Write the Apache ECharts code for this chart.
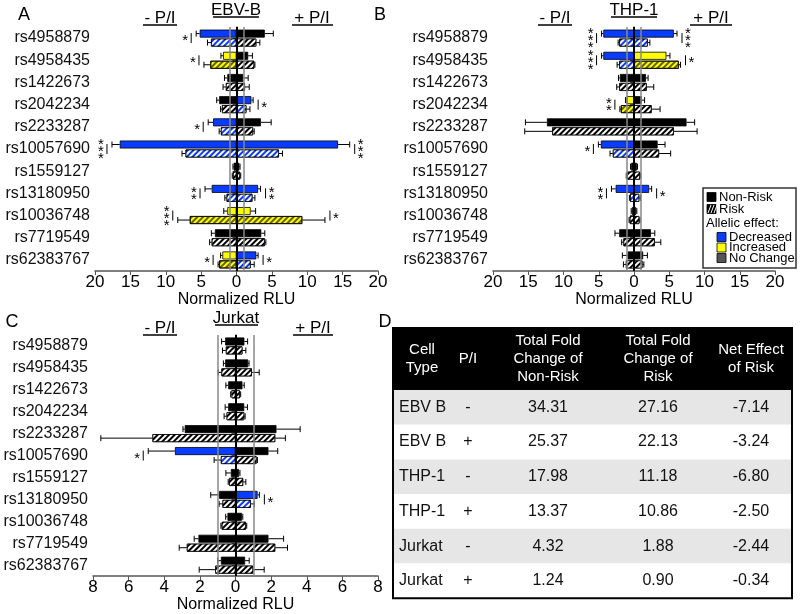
<!DOCTYPE html>
<html>
<head>
<meta charset="utf-8">
<script src="https://cdn.jsdelivr.net/npm/echarts@6/dist/echarts.min.js"></script>
<style>
html, body { margin: 0; background: #fff; }
#chart { width: 800px; height: 614px; }
</style>
</head>
<body>
<div id="chart"></div>
<script>
var font = 'Liberation Sans, Arial, sans-serif';

var snps = ['rs4958879', 'rs4958435', 'rs1422673', 'rs2042234', 'rs2233287', 'rs10057690',
    'rs1559127', 'rs13180950', 'rs10036748', 'rs7719549', 'rs62383767'];

// D = decreased, I = increased, N = no change
var effectColor = { D: '#0a3cff', I: '#ffff00', N: '#000000' };

// A - EBV-B (magnitudes; -P/I drawn to the left)
var ebvNonRiskMinus = [5.2, 1.9, 1.3, 2.45, 3.3, 16.5, 0.4, 3.5, 1.3, 3.05, 2.0];
var ebvNonRiskMinusErr = [0.5, 0.3, 0.4, 0.35, 0.7, 1.1, 0.1, 0.95, 0.5, 0.5, 0.25];
var ebvNonRiskPlus = [4.0, 1.65, 0.95, 2.1, 3.45, 14.35, 0.4, 3.05, 2.0, 3.5, 2.8];
var ebvNonRiskPlusErr = [1.2, 0.6, 0.7, 0.25, 1.45, 1.65, 0.1, 0.35, 0.7, 0.5, 0.25];
var ebvRiskMinus = [3.6, 3.7, 1.5, 2.05, 2.2, 7.2, 0.5, 1.4, 6.6, 3.5, 2.45];
var ebvRiskMinusErr = [0.5, 0.9, 0.4, 0.2, 0.25, 0.5, 0.1, 0.25, 1.7, 0.3, 0.15];
var ebvRiskPlus = [2.8, 2.5, 1.2, 1.4, 2.35, 6.0, 0.5, 2.25, 9.3, 4.0, 2.0];
var ebvRiskPlusErr = [0.5, 0.1, 0.6, 0.5, 0.15, 0.5, 0.1, 0.35, 3.2, 0.15, 0.5];
var ebvEffectMinus = ['D', 'I', 'N', 'N', 'D', 'D', 'N', 'D', 'I', 'N', 'I'];
var ebvEffectPlus = ['N', 'N', 'N', 'D', 'N', 'D', 'N', 'D', 'I', 'N', 'D'];
var ebvStars = [[0, 'L', '*'], [1, 'L', '*'], [3, 'R', '*'], [4, 'L', '*'], [5, 'L', '***'], [5, 'R', '***'],
    [7, 'L', '**'], [7, 'R', '**'], [8, 'L', '***'], [8, 'R', '*'], [10, 'L', '*'], [10, 'R', '*']];

// B - THP-1
var thpNonRiskMinus = [4.35, 4.35, 2.0, 1.05, 12.35, 4.7, 0.4, 2.6, 0.3, 2.1, 0.9];
var thpNonRiskMinusErr = [0.25, 0.25, 0.2, 0.15, 3.05, 0.35, 0.1, 0.6, 0.1, 0.6, 0.75];
var thpNonRiskPlus = [5.65, 4.6, 1.7, 1.1, 7.45, 3.35, 0.4, 2.15, 0.3, 2.4, 1.3];
var thpNonRiskPlusErr = [0.45, 0.5, 0.3, 0.4, 1.15, 1.05, 0.1, 0.35, 0.1, 0.55, 0.6];
var thpRiskMinus = [2.1, 2.1, 2.1, 1.85, 11.6, 3.0, 1.0, 0.55, 0.6, 1.5, 1.15];
var thpRiskMinusErr = [0.15, 0.3, 0.35, 0.15, 3.9, 0.4, 0.1, 0.1, 0.1, 0.25, 0.35];
var thpRiskPlus = [1.95, 6.35, 1.8, 2.5, 5.65, 3.55, 0.85, 0.75, 0.75, 2.95, 1.2];
var thpRiskPlusErr = [0.3, 0.25, 1.0, 1.2, 3.3, 1.65, 0.1, 0.2, 0.1, 0.85, 0.2];
var thpEffectMinus = ['D', 'D', 'N', 'I', 'N', 'D', 'N', 'D', 'N', 'N', 'N'];
var thpEffectPlus = ['D', 'I', 'N', 'N', 'N', 'N', 'N', 'D', 'N', 'N', 'N'];
var thpStars = [[0, 'L', '***'], [0, 'R', '***'], [1, 'L', '***'], [1, 'R', '*'], [3, 'L', '**'],
    [5, 'L', '*'], [7, 'L', '**'], [7, 'R', '*']];

// C - Jurkat
var jurNonRiskMinus = [0.58, 0.58, 0.41, 0.41, 2.85, 3.4, 0.26, 0.92, 0.45, 2.08, 0.82];
var jurNonRiskMinusErr = [0.2, 0.1, 0.13, 0.17, 0.1, 1.5, 0.28, 0.47, 0.1, 0.24, 0.18];
var jurNonRiskPlus = [0.5, 0.71, 0.39, 0.49, 2.3, 1.85, 0.2, 1.24, 0.36, 1.85, 0.54];
var jurNonRiskPlusErr = [0.18, 0.05, 0.1, 0.18, 1.33, 0.52, 0.05, 0.1, 0.05, 0.85, 0.23];
var jurRiskMinus = [0.54, 0.79, 0.22, 0.5, 4.66, 0.82, 0.36, 0.73, 0.77, 2.73, 1.14];
var jurRiskMinusErr = [0.19, 0.18, 0.05, 0.14, 2.9, 0.38, 0.05, 0.19, 0.05, 0.43, 0.9];
var jurRiskPlus = [0.39, 0.92, 0.24, 0.49, 2.23, 1.18, 0.43, 0.86, 0.58, 2.23, 0.99];
var jurRiskPlusErr = [0.19, 0.41, 0.05, 0.05, 0.57, 0.05, 0.15, 0.19, 0.05, 0.69, 0.62];
var jurEffectMinus = ['N', 'N', 'N', 'N', 'N', 'D', 'N', 'N', 'N', 'N', 'N'];
var jurEffectPlus = ['N', 'N', 'N', 'N', 'N', 'N', 'N', 'D', 'N', 'N', 'N'];
var jurStars = [[5, 'L', '*'], [7, 'R', '*']];

// D - table
var tableHeaders = ['Cell\nType', 'P/I', 'Total Fold\nChange of\nNon-Risk', 'Total Fold\nChange of\nRisk', 'Net Effect\nof Risk'];
var tableCellType = ['EBV B', 'EBV B', 'THP-1', 'THP-1', 'Jurkat', 'Jurkat'];
var tablePI = ['-', '+', '-', '+', '-', '+'];
var tableFoldNonRisk = [34.31, 25.37, 17.98, 13.37, 4.32, 1.24];
var tableFoldRisk = [27.16, 22.13, 11.18, 10.86, 1.88, 0.90];
var tableNetEffect = [-7.14, -3.24, -6.80, -2.50, -2.44, -0.34];

function hatch(eff) {
    return {
        symbol: 'rect', symbolSize: 1,
        color: eff === 'I' ? 'rgba(60,60,0,0.8)' : '#ffffff',
        dashArrayX: [1, 0], dashArrayY: [2, 2], rotation: -Math.PI / 4
    };
}

function barData(vals, effs, sign, risk) {
    return vals.map(function (v, i) {
        var st = { color: effectColor[effs[i]], borderColor: '#000', borderWidth: 0.8 };
        if (risk) st.decal = hatch(effs[i]);
        return { value: sign * v, itemStyle: st };
    });
}

function errData(vals, errs, sign, row) {
    return vals.map(function (v, i) {
        return [i, sign * v, sign * (v + errs[i]), row];
    });
}

function renderErr(params, api) {
    var cat = api.value(0);
    var p0 = api.coord([api.value(1), cat]);
    var p1 = api.coord([api.value(2), cat]);
    var y = p0[1] + (api.value(3) === 0 ? -4.5 : 4.5);
    return {
        type: 'group',
        children: [
            { type: 'line', shape: { x1: p0[0], y1: y, x2: p1[0], y2: y }, style: { stroke: '#000', lineWidth: 1 } },
            { type: 'line', shape: { x1: p1[0], y1: y - 3, x2: p1[0], y2: y + 3 }, style: { stroke: '#000', lineWidth: 1 } }
        ]
    };
}

function renderStars(params, api) {
    var p = api.coord([api.value(1), api.value(0)]);
    var s = api.value(2), n = api.value(3);
    var bx = p[0] + s * 5;
    var kids = [{ type: 'line', shape: { x1: bx, y1: p[1] - 5, x2: bx, y2: p[1] + 5 }, style: { stroke: '#000', lineWidth: 1 } }];
    for (var k = 0; k < n; k++) {
        kids.push({
            type: 'text',
            style: {
                text: '*', x: bx + s * 6, y: p[1] + (k - (n - 1) / 2) * 7 + 3,
                align: 'center', verticalAlign: 'middle', fontSize: 15, fontFamily: font, fill: '#000'
            }
        });
    }
    return { type: 'group', children: kids };
}

var panels = [
    { nrM: ebvNonRiskMinus, nrMe: ebvNonRiskMinusErr, nrP: ebvNonRiskPlus, nrPe: ebvNonRiskPlusErr,
      rM: ebvRiskMinus, rMe: ebvRiskMinusErr, rP: ebvRiskPlus, rPe: ebvRiskPlusErr,
      effM: ebvEffectMinus, effP: ebvEffectPlus, stars: ebvStars },
    { nrM: thpNonRiskMinus, nrMe: thpNonRiskMinusErr, nrP: thpNonRiskPlus, nrPe: thpNonRiskPlusErr,
      rM: thpRiskMinus, rMe: thpRiskMinusErr, rP: thpRiskPlus, rPe: thpRiskPlusErr,
      effM: thpEffectMinus, effP: thpEffectPlus, stars: thpStars },
    { nrM: jurNonRiskMinus, nrMe: jurNonRiskMinusErr, nrP: jurNonRiskPlus, nrPe: jurNonRiskPlusErr,
      rM: jurRiskMinus, rMe: jurRiskMinusErr, rP: jurRiskPlus, rPe: jurRiskPlusErr,
      effM: jurEffectMinus, effP: jurEffectPlus, stars: jurStars }
];

function starData(p) {
    return p.stars.map(function (m) {
        var i = m[0], left = m[1] === 'L';
        var ext = left ? -Math.max(p.nrM[i] + p.nrMe[i], p.rM[i] + p.rMe[i])
                       : Math.max(p.nrP[i] + p.nrPe[i], p.rP[i] + p.rPe[i]);
        return [i, ext, left ? -1 : 1, m[2].length];
    });
}

var series = [];
panels.forEach(function (p, g) {
    var common = { type: 'bar', xAxisIndex: g, yAxisIndex: g, barWidth: 8, barGap: '12%', silent: true };
    series.push(Object.assign({}, common, {
        stack: 'nr' + g, data: barData(p.nrM, p.effM, -1, false),
        markLine: {
            silent: true, symbol: 'none', label: { show: false }, animation: false,
            data: [
                { xAxis: -1, lineStyle: { color: '#888', width: 1.5, type: 'solid' } },
                { xAxis: 1, lineStyle: { color: '#888', width: 1.5, type: 'solid' } },
                { xAxis: 0, lineStyle: { color: '#000', width: 2, type: 'solid' } }
            ]
        }
    }));
    series.push(Object.assign({}, common, { stack: 'nr' + g, data: barData(p.nrP, p.effP, 1, false) }));
    series.push(Object.assign({}, common, { stack: 'r' + g, data: barData(p.rM, p.effM, -1, true) }));
    series.push(Object.assign({}, common, { stack: 'r' + g, data: barData(p.rP, p.effP, 1, true) }));
    series.push({
        type: 'custom', xAxisIndex: g, yAxisIndex: g, renderItem: renderErr, silent: true, z: 3,
        encode: { x: [1, 2], y: 0 },
        data: errData(p.nrM, p.nrMe, -1, 0).concat(errData(p.nrP, p.nrPe, 1, 0),
            errData(p.rM, p.rMe, -1, 1), errData(p.rP, p.rPe, 1, 1))
    });
    series.push({
        type: 'custom', xAxisIndex: g, yAxisIndex: g, renderItem: renderStars, silent: true, z: 4,
        encode: { x: 1, y: 0 }, data: starData(p)
    });
});

function xAxis(g, lim, step) {
    return {
        type: 'value', gridIndex: g, min: -lim, max: lim, interval: step,
        name: 'Normalized RLU', nameLocation: 'middle', nameGap: 19,
        nameTextStyle: { fontFamily: font, fontSize: 16, color: '#000', verticalAlign: 'top' },
        axisLine: { show: true, lineStyle: { color: '#555', width: 1.5 } },
        axisTick: { show: true, length: 4, lineStyle: { color: '#555' } },
        axisLabel: { fontFamily: font, fontSize: 17, color: '#000', margin: 3, formatter: function (v) { return Math.abs(v); } },
        splitLine: { show: false }
    };
}
function yAxis(g) {
    return {
        type: 'category', gridIndex: g, data: snps, inverse: true,
        axisLine: { show: true, lineStyle: { color: '#555', width: 1.5 } },
        axisTick: { show: true, alignWithLabel: true, length: 4, lineStyle: { color: '#555' } },
        axisLabel: { fontFamily: font, fontSize: 16, color: '#111', margin: 5 }
    };
}

// titles: text, center x, center y, underline x1, x2, underline y
var titles = [
    ['- P/I', 160, 18, 143, 177, 25], ['EBV-B', 236, 10, 213, 259, 17], ['+ P/I', 312, 18, 292, 333, 25],
    ['- P/I', 555, 18, 538, 572, 25], ['THP-1', 634, 10, 611, 657, 17], ['+ P/I', 711, 18, 690, 732, 25],
    ['- P/I', 160, 328, 143, 177, 335], ['Jurkat', 236, 318, 215, 258, 325], ['+ P/I', 313, 328, 293, 333, 335]
];
var letters = [['A', 24, 15], ['B', 380, 15], ['C', 12, 322], ['D', 385, 322]];

var graphics = [];
function txt(text, x, y, opts) {
    var st = Object.assign({
        text: text, x: x, y: y, fill: '#000', fontFamily: font, fontSize: 16,
        align: 'center', textAlign: 'center', verticalAlign: 'middle', textVerticalAlign: 'middle'
    }, opts || {});
    return { type: 'text', silent: true, z: 10, style: st };
}
titles.forEach(function (t) {
    graphics.push(txt(t[0], t[1], t[2], { fontSize: 17 }));
    graphics.push({ type: 'line', silent: true, shape: { x1: t[3], y1: t[5], x2: t[4], y2: t[5] }, style: { stroke: '#000', lineWidth: 1.5 } });
});
letters.forEach(function (l) { graphics.push(txt(l[0], l[1], l[2], { fontSize: 18 })); });

// legend in panel B
graphics.push({ type: 'rect', silent: true, shape: { x: 703, y: 188, width: 93, height: 80 }, style: { fill: '#fff', stroke: '#333', lineWidth: 1.5 }, z: 9 });
var legendRows = [
    { y: 197, x: 707, label: 'Non-Risk', color: '#000', decal: false },
    { y: 209, x: 707, label: 'Risk', color: '#000', decal: true },
    { y: 237, x: 717, label: 'Decreased', color: effectColor.D },
    { y: 247.5, x: 717, label: 'Increased', color: effectColor.I },
    { y: 258, x: 717, label: 'No Change', color: '#555' }
];
legendRows.forEach(function (r) {
    graphics.push({ type: 'rect', silent: true, z: 10, shape: { x: r.x, y: r.y - 4.5, width: 9, height: 9 }, style: { fill: r.color, stroke: '#000', lineWidth: 0.8 } });
    if (r.decal) {
        for (var k = 0; k < 3; k++) {
            graphics.push({ type: 'line', silent: true, z: 11, shape: { x1: r.x + 1 + k * 3, y1: r.y + 4, x2: r.x + 4 + k * 3, y2: r.y - 4 }, style: { stroke: '#fff', lineWidth: 1 } });
        }
    }
    graphics.push(txt(r.label, r.x + 12, r.y, { align: 'left', textAlign: 'left', fontSize: 13 }));
});
graphics.push(txt('Allelic effect:', 706, 223, { align: 'left', textAlign: 'left', fontSize: 13 }));

// table D
var tL = 393, tR = 792, tTop = 328, headH = 62, rowH = 34.7;
var colX = [422, 468, 548, 658, 751];
graphics.push({ type: 'rect', silent: true, z: 8, shape: { x: tL, y: tTop, width: tR - tL, height: headH }, style: { fill: '#000' } });
tableHeaders.forEach(function (h, c) {
    graphics.push(txt(h, colX[c], tTop + headH / 2, { fill: '#fff', fontSize: 15, lineHeight: 18 }));
});
tableCellType.forEach(function (ct, r) {
    var y0 = tTop + headH + r * rowH;
    graphics.push({ type: 'rect', silent: true, z: 8, shape: { x: tL, y: y0, width: tR - tL, height: rowH }, style: { fill: r % 2 === 0 ? '#e6e6e6' : '#fff' } });
    var yc = y0 + rowH / 2;
    graphics.push(txt(ct, 399, yc, { align: 'left', textAlign: 'left', fill: '#111' }));
    graphics.push(txt(tablePI[r], colX[1], yc, { fill: '#111' }));
    graphics.push(txt(tableFoldNonRisk[r].toFixed(2), colX[2], yc, { fill: '#111' }));
    graphics.push(txt(tableFoldRisk[r].toFixed(2), colX[3], yc, { fill: '#111' }));
    graphics.push(txt(tableNetEffect[r].toFixed(2), colX[4], yc, { fill: '#111' }));
});
graphics.push({ type: 'rect', silent: true, z: 12, shape: { x: tL, y: tTop, width: tR - tL, height: headH + rowH * 6 }, style: { fill: 'none', stroke: '#000', lineWidth: 2 } });

var myChart = echarts.init(document.getElementById('chart'));
myChart.setOption({
    animation: false,
    backgroundColor: '#fff',
    grid: [
        { left: 95, right: 422, top: 27, bottom: 343 },
        { left: 493, right: 25, top: 27, bottom: 343 },
        { left: 93, right: 422, top: 335, bottom: 37 }
    ],
    xAxis: [xAxis(0, 20, 5), xAxis(1, 20, 5), xAxis(2, 8, 2)],
    yAxis: [yAxis(0), yAxis(1), yAxis(2)],
    series: series,
    graphic: graphics
});
</script>
</body>
</html>
